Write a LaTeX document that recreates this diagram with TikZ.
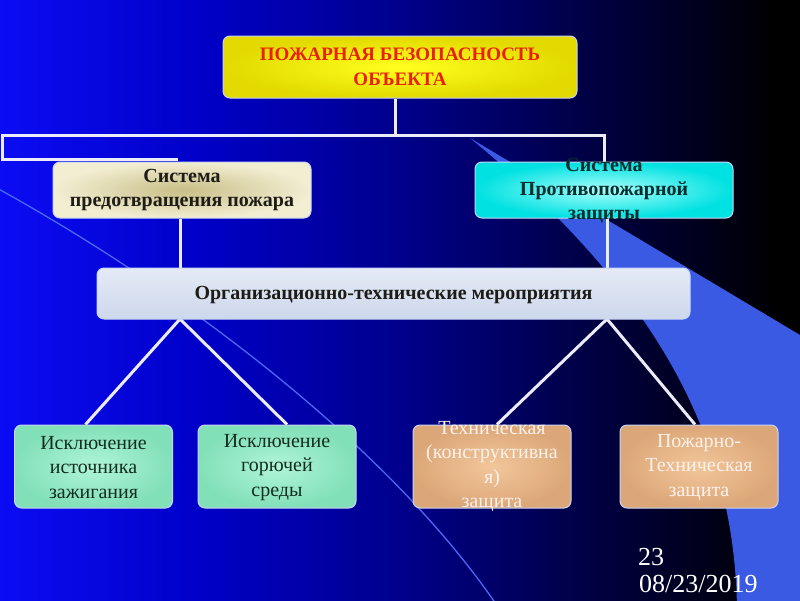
\documentclass[tikz,border=0pt]{standalone}
\usepackage{fontspec}
\setmainfont{Liberation Serif}
\definecolor{bgA}{RGB}{12,12,245}
\definecolor{bgB}{RGB}{0,0,200}
\definecolor{bgC}{RGB}{0,0,140}
\definecolor{bgD}{RGB}{0,0,82}
\definecolor{bgE}{RGB}{0,0,35}
\definecolor{bgF}{RGB}{0,0,0}
\definecolor{wedgec}{RGB}{58,90,228}
\definecolor{thinc}{RGB}{75,105,245}
\definecolor{linec}{RGB}{236,236,248}
\definecolor{edgec}{RGB}{200,212,245}
\definecolor{yelIn}{RGB}{255,255,30}
\definecolor{yelOut}{RGB}{226,218,0}
\definecolor{redt}{RGB}{232,32,12}
\definecolor{khIn}{RGB}{200,190,135}
\definecolor{khOut}{RGB}{242,238,210}
\definecolor{cyIn}{RGB}{170,255,252}
\definecolor{cyOut}{RGB}{0,225,225}
\definecolor{orgA}{RGB}{228,234,246}
\definecolor{orgB}{RGB}{205,216,236}
\definecolor{grIn}{RGB}{175,245,215}
\definecolor{grOut}{RGB}{130,224,185}
\definecolor{orIn}{RGB}{242,198,155}
\definecolor{orOut}{RGB}{220,167,120}
\definecolor{darkt}{RGB}{30,28,22}
\definecolor{tealt}{RGB}{0,45,45}
\definecolor{greent}{RGB}{20,45,30}
\definecolor{whitet}{RGB}{252,242,236}
\pgfdeclarelayer{bglayer}
\pgfdeclarelayer{connlayer}
\pgfsetlayers{bglayer,connlayer,main}
\tikzset{
  conn/.style={draw=linec, line width=3pt},
  boxbase/.style={rectangle, rounded corners=7pt, draw=edgec, line width=1pt, inner sep=0pt},
  labelbase/.style={align=center, inner sep=0pt},
  topbox/.style={boxbase, inner color=yelIn, outer color=yelOut, minimum width=354pt, minimum height=62pt},
  toplabel/.style={labelbase, text=redt, font=\fontsize{19}{25}\selectfont\bfseries},
  sysbox/.style={boxbase, minimum width=258pt, minimum height=56pt},
  syslabel/.style={labelbase, font=\fontsize{20}{24}\selectfont\bfseries},
  orgbox/.style={boxbase, top color=orgA, bottom color=orgB, minimum width=593pt, minimum height=51pt},
  orglabel/.style={labelbase, text=darkt, font=\fontsize{20}{24}\selectfont\bfseries},
  leafbox/.style={boxbase, minimum width=158pt, minimum height=83pt},
  greenbox/.style={leafbox, inner color=grIn, outer color=grOut},
  orangebox/.style={leafbox, inner color=orIn, outer color=orOut},
  leaflabel/.style={labelbase, font=\fontsize{20}{24.3}\selectfont},
  datetext/.style={text=white, font=\fontsize{26}{26}\selectfont, inner sep=0pt, anchor=base west}
}
\begin{document}
\begin{tikzpicture}[x=1pt,y=-1pt]
\useasboundingbox (0,0) rectangle (800,600);
\begin{pgfonlayer}{bglayer}
% background
\shade[left color=bgA, right color=bgB] (-5,-5) rectangle (200,605);
\shade[left color=bgB, right color=bgC] (199.5,-5) rectangle (400,605);
\shade[left color=bgC, right color=bgD] (399.5,-5) rectangle (550,605);
\shade[left color=bgD, right color=bgE] (549.5,-5) rectangle (680,605);
\shade[left color=bgE, right color=bgF] (679.5,-5) rectangle (780,605);
\fill[bgF] (779.5,-5) rectangle (805,605);
% light wedge
\fill[wedgec] (470,138) -- (810,341) -- (810,610) -- (737,610)
   .. controls (735,430) and (648,285) .. (470,138) -- cycle;
% thin curve
\draw[thinc, line width=1.3pt] (-5,187) .. controls (200,300) and (400,460) .. (500,610);
\end{pgfonlayer}

% boxes
\node[topbox] (top) at (400,67) {};
\node[sysbox, inner color=khIn, outer color=khOut] (sysL) at (182,190) {};
\node[sysbox, inner color=cyIn, outer color=cyOut] (sysR) at (604,190) {};
\node[orgbox] (org) at (393.5,293.5) {};
\node[greenbox] (b1) at (93.5,466.5) {};
\node[greenbox] (b2) at (277,466.5) {};
\node[orangebox] (b3) at (492,466.5) {};
\node[orangebox] (b4) at (699,466.5) {};

% texts
\node[toplabel] (topT) at (top) {ПОЖАРНАЯ БЕЗОПАСНОСТЬ\\ОБЪЕКТА};
\node[syslabel, text=darkt] (sysLT) at (sysL) {Система\\предотвращения пожара};
\node[syslabel, text=tealt] (sysRT) at ([yshift=-1pt]sysR) {Система\\Противопожарной\\защиты};
\node[orglabel] (orgT) at ([yshift=-2pt]org) {Организационно-технические мероприятия};
\node[leaflabel, text=greent] (b1T) at ([yshift=-1pt]b1) {Исключение\\источника\\зажигания};
\node[leaflabel, text=greent] (b2T) at ([yshift=-1pt]b2) {Исключение\\горючей\\среды};
\node[leaflabel, text=whitet] (b3T) at (b3) {Техническая\\(конструктивна\\я)\\защита};
\node[leaflabel, text=whitet] (b4T) at ([yshift=-1pt]b4) {Пожарно-\\Техническая\\защита};

% connector helper coordinates
\coordinate (bus) at (395,135);
\coordinate (cL1) at (2,135);
\coordinate (cL2) at (178,159);
\coordinate (oL) at (180,319);
\coordinate (oR) at (607,319);

% connectors (behind boxes)
\begin{pgfonlayer}{connlayer}
\draw[conn] (top.south -| bus) -- (bus) -| (sysR.north);
\draw[conn] (bus) -- (cL1) |- (cL2);
\draw[conn] (sysL.south -| oL) -- (org.north -| oL);
\draw[conn] (sysR.south -| oR) -- (org.north -| oR);
\draw[conn] (oL) -- ([xshift=-8pt]b1.north);
\draw[conn] (oL) -- ([xshift=10pt]b2.north);
\draw[conn] (oR) -- ([xshift=5pt]b3.north);
\draw[conn] (oR) -- ([xshift=-4pt]b4.north);
\end{pgfonlayer}

% slide number and date
\node[datetext] (num) at (638,565) {23};
\node[datetext] (date) at (639,592) {08/23/2019};
\end{tikzpicture}
\end{document}
